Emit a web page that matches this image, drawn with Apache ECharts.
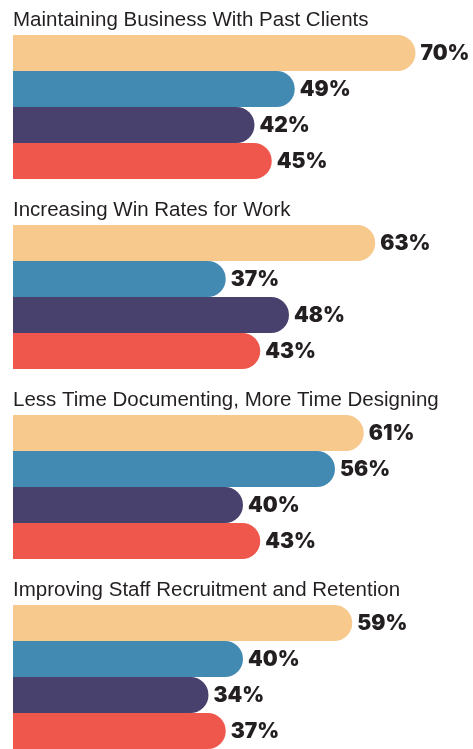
<!DOCTYPE html>
<html>
<head>
<meta charset="utf-8">
<script src="https://cdn.jsdelivr.net/npm/echarts@6/dist/echarts.min.js"></script>
<style>
  html, body { margin: 0; padding: 0; background: #fff; }
  #chart { width: 473px; height: 749px; }
</style>
</head>
<body>
<div id="chart"></div>
<script>
// group headings, top to bottom
var groupTitles = [
  'Maintaining Business With Past Clients',
  'Increasing Win Rates for Work',
  'Less Time Documenting, More Time Designing',
  'Improving Staff Recruitment and Retention'
];
// one array per coloured bar (same order in every group)
var orangeValues = [70, 63, 61, 59];
var blueValues   = [49, 37, 56, 40];
var purpleValues = [42, 48, 40, 34];
var redValues    = [45, 43, 43, 37];
var barColors = ['#F7C98D', '#438AB3', '#48416D', '#EF564C'];
var barSlots = ['a', 'b', 'c', 'd'];

var chart = echarts.init(document.getElementById('chart'));

var groupStep = 190, firstBarTop = 35, barH = 36;
var titles = [], grids = [], xAxes = [], yAxes = [], series = [];

groupTitles.forEach(function (t, g) {
  var vals = [orangeValues[g], blueValues[g], purpleValues[g], redValues[g]];
  titles.push({
    text: t,
    left: 13,
    top: firstBarTop + g * groupStep - 25,
    padding: 0,
    textStyle: {
      fontFamily: '"Liberation Sans", sans-serif',
      fontWeight: 'normal',
      fontSize: 20.5,
      color: '#231F20'
    }
  });
  grids.push({
    left: 13,
    width: 460,
    top: firstBarTop + g * groupStep,
    height: barH * 4
  });
  xAxes.push({
    type: 'value', gridIndex: g, min: 0, max: 80,
    show: false
  });
  yAxes.push({
    type: 'category', gridIndex: g, data: barSlots, inverse: true,
    show: false
  });
  series.push({
    type: 'bar',
    xAxisIndex: g,
    yAxisIndex: g,
    barCategoryGap: 0,
    barWidth: barH,
    data: vals.map(function (v, i) {
      return { value: v, itemStyle: { color: barColors[i] } };
    }),
    itemStyle: { borderRadius: [0, 18, 18, 0] },
    label: {
      show: true,
      position: 'right',
      distance: 5,
      offset: [0, 1],
      formatter: '{c}%',
      fontFamily: 'Inter, Lato, sans-serif',
      fontWeight: 900,
      fontSize: 21,
      color: '#231F20'
    },
    silent: true,
    animation: false
  });
});

chart.setOption({
  backgroundColor: '#fff',
  title: titles,
  grid: grids,
  xAxis: xAxes,
  yAxis: yAxes,
  series: series
});
</script>
</body>
</html>
